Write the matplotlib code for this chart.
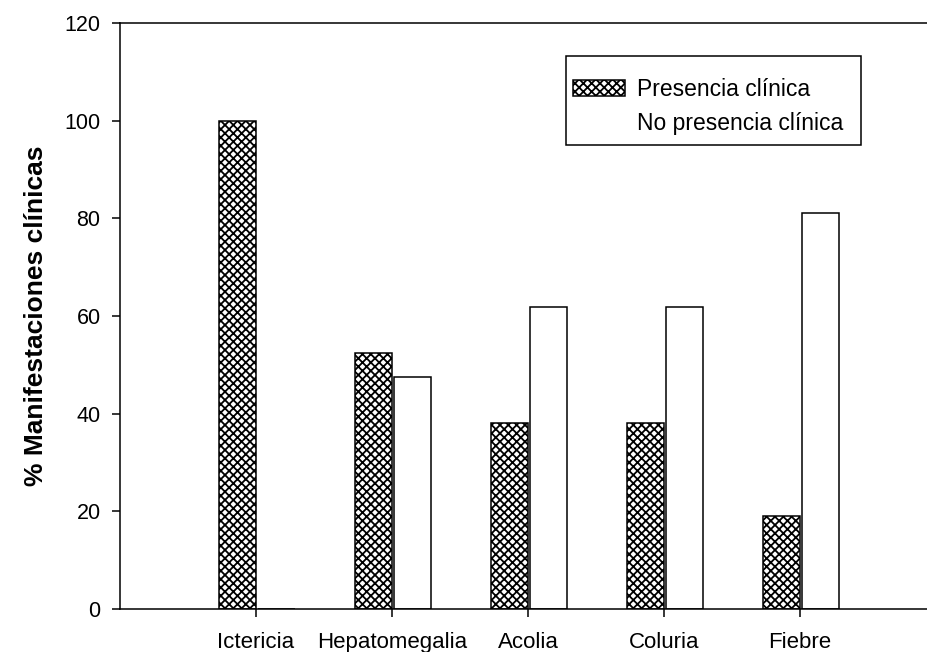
import numpy as np
import matplotlib
matplotlib.use("Agg")
import matplotlib.pyplot as plt
from matplotlib.patches import Patch, Rectangle

plt.rcParams["font.family"] = ["Liberation Sans", "DejaVu Sans"]
plt.rcParams["hatch.linewidth"] = 1.3

# % de pacientes con cada manifestacion (n = 21)
categorias = ["Ictericia", "Hepatomegalia", "Acolia", "Coluria", "Fiebre"]
presencia = [100.0, 52.4, 38.1, 38.1, 19.0]
no_presencia = [0.0, 47.6, 61.9, 61.9, 81.0]

W, H = 927, 652
fig = plt.figure(figsize=(W / 100, H / 100), dpi=100)
ax = fig.add_axes([120 / W, 1 - 609 / H, 1 - 120 / W, (609 - 23) / H])

x = np.arange(len(categorias))
ancho = 0.272
hueco = 0.015

ax.bar(x - ancho, presencia, ancho, align="edge", facecolor="white",
       edgecolor="black", linewidth=1.1, hatch="xxxx", zorder=2)
ax.bar(x + hueco, no_presencia, ancho, align="edge", facecolor="white",
       edgecolor="black", linewidth=1.1, zorder=2)

ax.set_xlim(-1, 4.934)
ax.set_ylim(0, 120)
ax.set_yticks(np.arange(0, 121, 20))
ax.set_xticks(x)
ax.set_xticklabels(categorias, fontsize=16)
ax.tick_params(axis="y", labelsize=15.5, length=6, width=1.1, pad=8)
ax.tick_params(axis="x", length=5.5, width=1.1, pad=11)

ax.spines["right"].set_visible(False)
for s in ["left", "top", "bottom"]:
    ax.spines[s].set_linewidth(1.1)

ax.set_ylabel("% Manifestaciones clínicas", fontsize=19, fontweight="bold", labelpad=12)

# recuadro de la leyenda dibujado aparte (padding distinto en horizontal y vertical)
ax.add_patch(Rectangle((566 / W, 1 - 145 / H), (861 - 566) / W, (145 - 56) / H,
                       transform=fig.transFigure, facecolor="white",
                       edgecolor="black", linewidth=1.1, zorder=3, clip_on=False))

handles = [Patch(facecolor="white", edgecolor="black", hatch="xxxx", linewidth=1.1),
           Patch(facecolor="none", edgecolor="none")]
leg = ax.legend(handles, ["Presencia clínica", "No presencia clínica"],
                loc="upper left", bbox_to_anchor=(573 / W, 1 - 78 / H),
                bbox_transform=fig.transFigure, fontsize=16.5, frameon=False,
                handlelength=2.26, handleheight=0.7, handletextpad=0.55,
                borderpad=0, labelspacing=0.5, borderaxespad=0)
leg.set_zorder(4)

fig.savefig("out.png", dpi=100)
